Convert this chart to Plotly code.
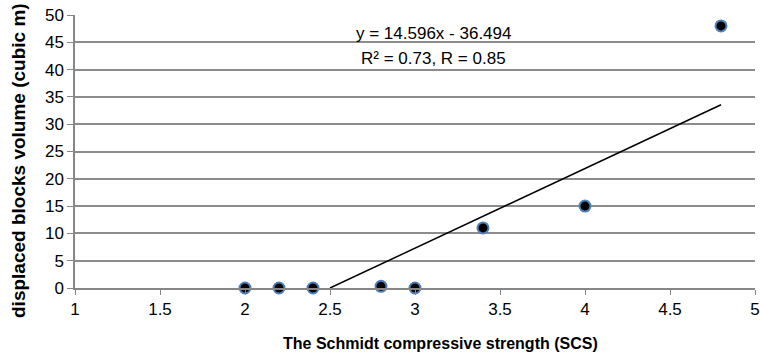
import plotly.graph_objects as go

scs = [2.0, 2.2, 2.4, 2.8, 3.0, 3.4, 4.0, 4.8]
volume = [0.0, 0.0, 0.0, 0.3, 0.0, 11.0, 15.0, 48.0]
slope = 14.596
intercept = -36.494
trend_x = [2.5, 4.8]
trend_y = [slope * x + intercept for x in trend_x]
x_ticks = [1, 1.5, 2, 2.5, 3, 3.5, 4, 4.5, 5]
y_ticks = list(range(0, 55, 5))

font = "Liberation Sans"
W, H = 760, 360
L, T, R, B = 75, 15, 5, 72
pw, ph = W - L - R, H - T - B

def px_x(p):
    return (p - L) / pw

def px_y(p):
    return ((H - B) - p) / ph

fig = go.Figure()
fig.add_trace(go.Scatter(x=trend_x, y=trend_y, mode="lines",
                         line=dict(color="black", width=1.5), showlegend=False))
fig.add_trace(go.Scatter(x=scs, y=volume, mode="markers",
                         marker=dict(size=11, color="black",
                                     line=dict(color="#4F81BD", width=2)),
                         showlegend=False, cliponaxis=False))
fig.add_annotation(x=3.11, y=46.7, text="y = 14.596x - 36.494", showarrow=False,
                   font=dict(family=font, size=17, color="black"))
fig.add_annotation(x=3.11, y=42.1, text="R² = 0.73, R = 0.85", showarrow=False,
                   font=dict(family=font, size=17, color="black"))
fig.add_annotation(xref="paper", yref="paper", x=px_x(440), y=px_y(343),
                   text="<b>The Schmidt compressive strength (SCS)</b>", showarrow=False,
                   xanchor="center", yanchor="middle",
                   font=dict(family=font, size=16, color="black"))
fig.add_annotation(xref="paper", yref="paper", x=px_x(18), y=px_y(161),
                   text="<b>displaced blocks volume (cubic m)</b>", showarrow=False,
                   textangle=-90, xanchor="center", yanchor="middle",
                   font=dict(family=font, size=19, color="black"))
fig.update_layout(
    width=W, height=H,
    margin=dict(l=L, r=R, t=T, b=B),
    paper_bgcolor="white", plot_bgcolor="white",
    font=dict(family=font, size=17, color="black"),
    xaxis=dict(range=[1, 5], tickvals=x_ticks, ticktext=[f"{v:g}" for v in x_ticks],
               showgrid=False, showline=True, linecolor="#868686", linewidth=1.5,
               ticks="outside", tickcolor="#868686", ticklen=5, zeroline=False,
               automargin=False, tickfont=dict(size=17), ticklabeloverflow="allow"),
    yaxis=dict(range=[0, 50], tickvals=y_ticks, showgrid=True, gridcolor="#8c8c8c",
               gridwidth=1.5, showline=True, linecolor="#868686", linewidth=1.5,
               ticks="outside", tickcolor="#868686", ticklen=6, zeroline=False,
               automargin=False, tickfont=dict(size=17), ticklabeloverflow="allow"),
)
fig.write_html("out.html", config={"displayModeBar": False},
               post_script="document.body.style.margin='0';document.body.style.overflow='hidden';")
